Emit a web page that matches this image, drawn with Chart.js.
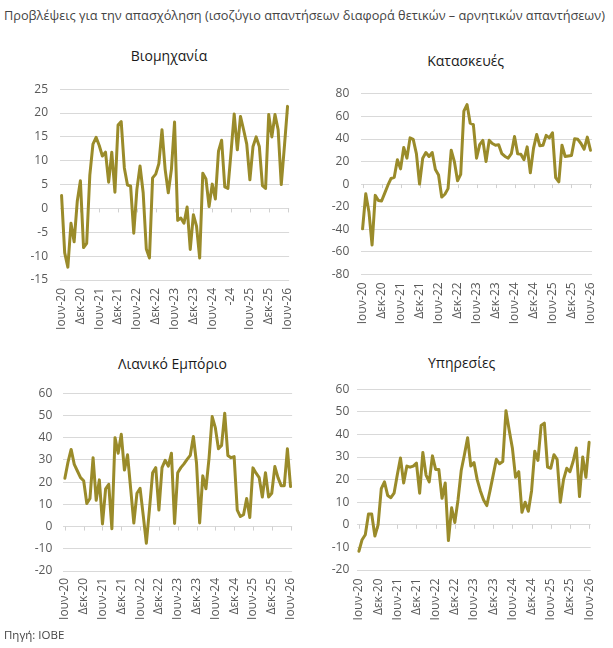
<!DOCTYPE html>
<html><head><meta charset="utf-8">
<script src="https://cdn.jsdelivr.net/npm/chart.js@4.4.1/dist/chart.umd.min.js"></script>
<style>
html,body{margin:0;padding:0;background:#fff;}
body{width:613px;height:648px;position:relative;overflow:hidden;font-family:'Open Sans',sans-serif;}
.t{position:absolute;white-space:nowrap;}
#main{left:4px;top:7.3px;font-size:12.75px;line-height:16px;color:#444;}
#src{left:4px;top:626.6px;font-size:11.5px;line-height:16px;color:#444;}
.pt{position:absolute;width:200px;text-align:center;font-size:14px;line-height:20px;color:#1a1a1a;white-space:nowrap;}
canvas{position:absolute;}
</style></head><body>
<div class="t" id="main">Προβλέψεις για την απασχόληση (ισοζύγιο απαντήσεων διαφορά θετικών – αρνητικών απαντήσεων)</div>
<div class="pt" style="left:69px;top:45.6px;">Βιομηχανία</div>
<div class="pt" style="left:365.7px;top:50.6px;">Κατασκευές</div>
<div class="pt" style="left:72.5px;top:353.6px;">Λιανικό Εμπόριο</div>
<div class="pt" style="left:361.7px;top:352.6px;">Υπηρεσίες</div>
<canvas id="c1" width="310" height="270" style="left:0px;top:70px;"></canvas>
<canvas id="c2" width="303" height="265" style="left:310px;top:75px;"></canvas>
<canvas id="c3" width="312" height="256" style="left:0px;top:375px;"></canvas>
<canvas id="c4" width="308" height="256" style="left:305px;top:374px;"></canvas>
<div class="t" id="src">Πηγή: ΙΟΒΕ</div>
<script>
const monthNames = ['Ιαν','Φεβ','Μαρ','Απρ','Μαϊ','Ιουν','Ιουλ','Αυγ','Σεπ','Οκτ','Νοε','Δεκ'];
const categories = [];
for (let y = 20; y <= 26; y++) {
  for (let m = 0; m < 12; m++) {
    if ((y === 20 && m < 5) || (y === 26 && m > 5)) continue;
    categories.push(monthNames[m] + '-' + y);
  }
}
const tickLabels = ['Ιουν-20','Δεκ-20','Ιουν-21','Δεκ-21','Ιουν-22','Δεκ-22','Ιουν-23','Δεκ-23','Ιουν-24','Δεκ-24','Ιουν-25','Δεκ-25','Ιουν-26'];
const tickLabelsIndustry = ['Ιουν-20','Δεκ-20','Ιουν-21','Δεκ-21','Ιουν-22','Δεκ-22','Ιουν-23','Δεκ-23','Ιουν-24','-24','Ιουν-25','Δεκ-25','Ιουν-26'];

const industry = [2.7,-9.3,-12.3,-3.1,-7,1.5,5.8,-8.2,-7.3,7,
  13.5,14.9,13.2,11,11.8,5.5,11.8,3.4,17.5,18.2,
  8.5,4.9,4.7,-5.2,4,8.9,3.3,-8.5,-10.4,6.4,
  7.2,9.4,16.5,8.2,3.3,8.2,18.1,-2.5,-2,-3.1,
  0.3,-8.6,-1.3,-3.7,-10.4,7.4,6.2,0.4,5.1,2,
  12,14.3,4.5,4.2,11.8,19.8,12.3,19.3,16.5,13.5,
  6,13,15,13,4.8,4.2,19.7,15,19.7,16.5,
  5,13,21.4];
const construction = [-39.7,-8.6,-24.5,-54,-10,-14.5,-15,-8,-1,5,
  6,21.6,13.5,32.5,23,41,39.7,27,0,23,
  28,24.5,28,13,8,-11.5,-9,-4,30,20,
  3,8.6,64.7,70.5,54,52.7,23,35,38.8,20,
  38.8,36,34.5,35,27,24.5,23,27,42.3,26.8,
  26.5,21.6,33,10,31.7,44,34,34.5,43.2,41,
  45.5,5.8,2,34.5,24.5,25,25.3,40.3,39.7,36,
  31,41.7,30];
const retail = [21.7,29,34.7,28,25,22,20.6,10.4,12.6,31,
  11.8,21,1.2,17,19,-1,40,33,41.5,25.4,
  32.3,17,1.6,15,17.2,5,-7.5,8,24.2,26.5,
  7.4,26.5,29.8,27.2,33,1.4,24.2,26.5,28.2,30.2,
  32,40.5,28.6,1.6,22.8,17,30.8,49.5,44.5,35,
  36.5,51,32,31,31.5,7.4,4.5,5.3,12.6,4.1,
  26.4,24,22,13.3,24.2,13.3,15,27,22,18.4,
  18.4,35,18];
const services = [-11.7,-6.6,-4.4,4.8,4.8,-5,0,16,19,13,
  12,14,22,29.6,18.5,26,25.5,26,27.3,14,
  32,22,19,30.5,24.5,24.5,11.7,18.5,-7,7.5,
  1,11,24,31,38.5,26,27.5,20,15,11,
  8.5,15,22,29,27,28,50.5,42,34,21,
  23.5,5.5,10,6,15,32.5,28.5,44,45,25.5,
  25,31,29,10,20,25,23.5,28,34,12.5,
  30,21,36.5];

const LINE = '#9a8b2a';
const GRID = '#d9d9d9';
const TICK = '#595959';
Chart.defaults.font.family = "'Open Sans', sans-serif";
Chart.defaults.font.size = 12;
Chart.defaults.color = TICK;

const zeroTicks = {
  id: 'zeroTicks',
  beforeDatasetsDraw(chart) {
    const {ctx, scales: {x, y}} = chart;
    const y0 = y.getPixelForValue(0);
    ctx.save();
    ctx.strokeStyle = '#d0d0d0';
    ctx.lineWidth = 1;
    for (let i = 0; i < categories.length; i += 6) {
      const px = Math.round(x.getPixelForValue(i)) + 0.5;
      ctx.beginPath();
      ctx.moveTo(px, y0);
      ctx.lineTo(px, y0 + 4);
      ctx.stroke();
    }
    ctx.restore();
  }
};

function makeChart(id, data, labels, yMin, yMax, step, p) {
  new Chart(document.getElementById(id), {
    type: 'line',
    data: {labels: categories, datasets: [{data, borderColor: LINE, borderWidth: 3, pointRadius: 0, tension: 0,
      borderJoinStyle: 'round', borderCapStyle: 'round', fill: false}]},
    options: {
      responsive: false, animation: false, devicePixelRatio: 1,
      layout: {padding: {left: 0, right: p.pr, top: p.pt, bottom: 0}},
      plugins: {legend: {display: false}, tooltip: {enabled: false}, title: {display: false}},
      scales: {
        x: {type: 'category', offset: true,
          grid: {display: false, drawTicks: false}, border: {display: false},
          ticks: {autoSkip: false, minRotation: 90, maxRotation: 90, padding: p.xp, color: TICK, font: {size: 12},
            callback: (v, i) => (i % 6 === 0 ? labels[i / 6] : '')},
          afterFit: s => { s.height = p.xH; }},
        y: {min: yMin, max: yMax,
          grid: {color: GRID, lineWidth: 1, drawTicks: false}, border: {display: false},
          ticks: {stepSize: step, padding: p.yp, color: TICK, font: {size: 12}},
          afterFit: s => { s.width = p.yW; }}
      }
    },
    plugins: [zeroTicks]
  });
}

makeChart('c1', industry, tickLabelsIndustry, -15, 25, 5, {pr: 8, pt: 13.3, yW: 60, xH: 60, yp: 12, xp: 8});
makeChart('c2', construction, tickLabels, -80, 80, 20, {pr: 18, pt: 14, yW: 51, xH: 65.7, yp: 11.7, xp: 8});
makeChart('c3', retail, tickLabels, -20, 60, 10, {pr: 8, pt: 13.3, yW: 63.3, xH: 60, yp: 11, xp: 7});
makeChart('c4', services, tickLabels, -20, 60, 10, {pr: 22.3, pt: 13.3, yW: 52.3, xH: 60, yp: 8, xp: 8.5});
</script>
</body></html>
